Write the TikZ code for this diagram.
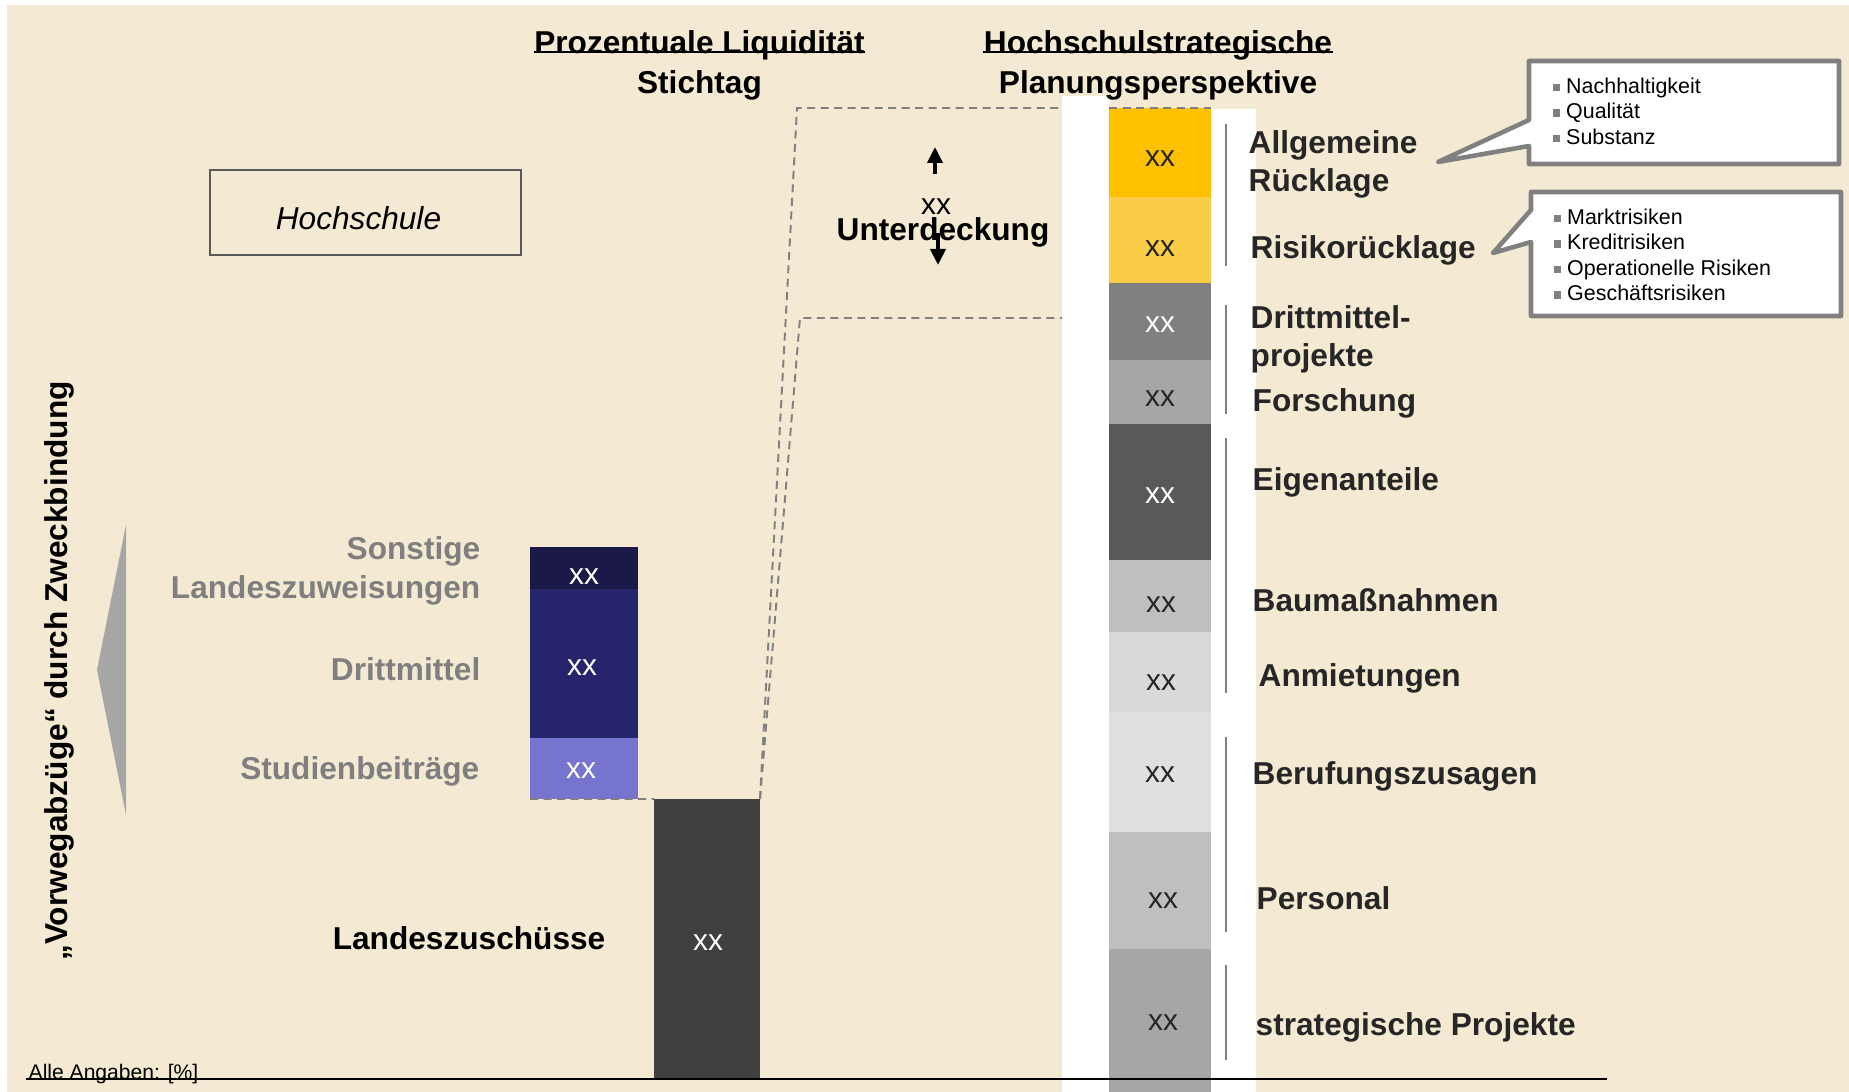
\documentclass[tikz,border=0pt]{standalone}
\usepackage{fontspec}
\setmainfont{Liberation Sans}
\usetikzlibrary{arrows.meta,positioning}
\definecolor{paper}{HTML}{F4EAD3}
\definecolor{linegray}{HTML}{808080}
\definecolor{labgray}{HTML}{7F7F7F}
\definecolor{textdark}{HTML}{262626}
\definecolor{gold}{HTML}{FFC000}
\definecolor{goldlight}{HTML}{F9CD48}
\definecolor{navydark}{HTML}{1B1948}
\definecolor{navy}{HTML}{26246B}
\definecolor{lilac}{HTML}{7774D0}
\definecolor{coal}{HTML}{404040}
\newcommand{\sqbullet}{\textcolor{linegray}{\rule[0.1em]{0.33em}{0.33em}}\hspace{0.3em}}
\tikzset{
  seg/.style={inner sep=0pt, outer sep=0pt, minimum width=1.02cm, anchor=north west},
  lab/.style={inner sep=0pt, anchor=north west, align=left, text=textdark, font=\fontsize{9}{10.8}\selectfont\bfseries},
  leftlab/.style={inner sep=0pt, anchor=north east, align=right, text=labgray, font=\fontsize{9}{11.1}\selectfont\bfseries},
  headline/.style={inner sep=0pt, anchor=north, align=center, font=\fontsize{9}{11.4}\selectfont\bfseries},
  xxval/.style={inner sep=0pt, text=textdark, font=\fontsize{8.5}{10}\selectfont},
  dashline/.style={draw=linegray, line width=0.55pt, dash pattern=on 0.8mm off 0.55mm},
  brack/.style={draw=linegray, line width=0.7pt},
  arr/.style={-{Triangle[length=1.6mm,width=1.5mm]}, line width=1.1pt},
  callbox/.style={draw=linegray, fill=white, line width=1.3pt, line join=round},
  calltext/.style={inner sep=0pt, anchor=north west, align=left, font=\fontsize{6.1}{7.25}\selectfont},
}

\begin{document}
\begin{tikzpicture}[x=1cm,y=-1cm]
	\useasboundingbox (0,0) rectangle (18.49,10.92);
	\fill[white] (0,0) rectangle (18.49,10.92);
	\fill[paper] (0.07,0.05) rectangle (18.49,10.92);
	\fill[white] (10.62,0.96) -- (11.09,0.96) -- (11.09,1.09) -- (12.56,1.09) -- (12.56,10.92) -- (10.62,10.92) -- cycle;
%
	\node[headline] (liq) at (6.995,0.30) {Prozentuale Liquidität\\Stichtag};
	\node[headline] (plan) at (11.58,0.30) {Hochschulstrategische\\Planungsperspektive};
	\draw[line width=0.6pt] ([yshift=-6.3pt]liq.north west) -- ([yshift=-6.3pt]liq.north east);
	\draw[line width=0.6pt] ([yshift=-6.3pt]plan.north west) -- ([yshift=-6.3pt]plan.north east);
	\node[draw=black!65, line width=0.5pt, minimum width=3.11cm, minimum height=0.85cm, text height=0.35cm, text depth=0pt, font=\fontsize{9}{11}\selectfont\itshape] (hs) at (3.655,2.125) {Hochschule\hspace*{0.14cm}};
%
	\node[seg, fill=gold, minimum height=0.89cm] (ag) at (11.09,1.08) {};
	\node[seg, fill=goldlight, minimum height=0.86cm, below=0pt of ag] (rr) {};
	\node[seg, fill=black!50, minimum height=0.77cm, below=0pt of rr] (dp) {};
	\node[seg, fill=black!35, minimum height=0.64cm, below=0pt of dp] (fo) {};
	\node[seg, fill=black!65, minimum height=1.36cm, below=0pt of fo] (ea) {};
	\node[seg, fill=black!25, minimum height=0.72cm, below=0pt of ea] (bm) {};
	\node[seg, fill=black!15, minimum height=0.80cm, below=0pt of bm] (am) {};
	\node[seg, fill=black!12, minimum height=1.20cm, below=0pt of am] (bz) {};
	\node[seg, fill=black!25, minimum height=1.17cm, below=0pt of bz] (pe) {};
	\node[seg, fill=black!35, minimum height=1.43cm, below=0pt of pe] (sp) {};
%
	\node[seg, minimum width=1.08cm, fill=navydark, minimum height=0.42cm] (so) at (5.30,5.47) {};
	\node[seg, minimum width=1.08cm, fill=navy, minimum height=1.49cm, below=0pt of so] (dm) {};
	\node[seg, minimum width=1.08cm, fill=lilac, minimum height=0.61cm, below=0pt of dm] (st) {};
	\node[seg, minimum width=1.06cm, fill=coal, minimum height=2.79cm] (lz) at (6.54,7.99) {};
%
	\coordinate (k1) at (7.97,1.08);
	\coordinate (k2) at (8.00,3.18);
	\coordinate (e1) at (10.62,1.08);
	\coordinate (e2) at (10.62,3.18);
	\draw[dashline] (lz.north east) -- (k1) -- (e1);
	\draw[dashline] (lz.north east) -- (k2) -- (e2);
	\draw[dashline] (ag.north west) -- (ag.north east);
	\draw[dashline] (st.south west) -- (lz.north west);
%
	\node[xxval] (v1) at (11.60,1.59) {xx};
	\node[xxval] (v2) at (11.60,2.49) {xx};
	\node[xxval, text=white] (v3) at (11.60,3.25) {xx};
	\node[xxval] (v4) at (11.60,3.99) {xx};
	\node[xxval, text=white] (v5) at (11.60,4.96) {xx};
	\node[xxval] (v6) at (11.61,6.05) {xx};
	\node[xxval] (v7) at (11.61,6.83) {xx};
	\node[xxval] (v8) at (11.60,7.75) {xx};
	\node[xxval] (v9) at (11.63,9.01) {xx};
	\node[xxval] (v10) at (11.63,10.23) {xx};
	\node[xxval, text=white] (w1) at (5.84,5.77) {xx};
	\node[xxval, text=white] (w2) at (5.82,6.68) {xx};
	\node[xxval, text=white] (w3) at (5.81,7.71) {xx};
	\node[xxval, text=white] (w4) at (7.08,9.43) {xx};
%
	\draw[brack] (12.26,1.24) -- (12.26,2.66);
	\draw[brack] (12.26,3.05) -- (12.26,4.14);
	\draw[brack] (12.26,4.38) -- (12.26,6.93);
	\draw[brack] (12.26,7.37) -- (12.26,9.32);
	\draw[brack] (12.26,9.65) -- (12.26,10.60);
	\node[lab] (l1) at (12.48,1.30) {Allgemeine\\Rücklage};
	\node[lab] (l2) at (12.50,2.35) {Risikorücklage};
	\node[lab] (l3) at (12.50,3.05) {Drittmittel-\\projekte};
	\node[lab] (l4) at (12.52,3.88) {Forschung};
	\node[lab] (l5) at (12.52,4.67) {Eigenanteile};
	\node[lab] (l6) at (12.52,5.88) {Baumaßnahmen};
	\node[lab] (l7) at (12.58,6.63) {Anmietungen};
	\node[lab] (l8) at (12.52,7.61) {Berufungszusagen};
	\node[lab] (l9) at (12.56,8.86) {Personal};
	\node[lab] (l10) at (12.55,10.12) {strategische Projekte};
%
	\node[leftlab] (n1) at (4.81,5.36) {Sonstige\\Landeszuweisungen};
	\node[leftlab] (n2) at (4.81,6.57) {Drittmittel};
	\node[leftlab] (n3) at (4.80,7.56) {Studienbeiträge};
	\node[leftlab, text=black] (n4) at (6.06,9.26) {Landeszuschüsse};
%
	\node[headline] (ud) at (9.43,2.17) {Unterdeckung};
	\node[xxval, text=black] (udv) at (9.36,2.065) {xx};
	\coordinate (up1) at (9.35,1.74);
	\coordinate (up2) at (9.35,1.47);
	\coordinate (dn1) at (9.38,2.33);
	\coordinate (dn2) at (9.38,2.65);
	\draw[arr] (up1) -- (up2);
	\draw[arr] (dn1) -- (dn2);
%
	\fill[black!35] (1.26,5.25) -- (0.97,6.70) -- (1.26,8.15) -- cycle;
	\node[rotate=90, inner sep=0pt, font=\fontsize{9}{11}\selectfont\bfseries] (vw) at (0.59,6.71) {„Vorwegabzüge“ durch Zweckbindung};
%
	\draw[callbox] (15.29,0.61) -- (18.39,0.61) -- (18.39,1.64) -- (15.29,1.64) -- (15.29,1.46) -- (14.38,1.62) -- (15.29,1.20) -- cycle;
	\node[calltext] (c1) at (15.52,0.77) {\sqbullet Nachhaltigkeit\\\sqbullet Qualität\\\sqbullet Substanz};
	\draw[callbox] (15.31,1.92) -- (18.41,1.92) -- (18.41,3.16) -- (15.31,3.16) -- (15.31,2.42) -- (14.93,2.53) -- (15.31,2.10) -- cycle;
	\node[calltext] (c2) at (15.53,2.08) {\sqbullet Marktrisiken\\\sqbullet Kreditrisiken\\\sqbullet Operationelle Risiken\\\sqbullet Geschäftsrisiken};
%
	\draw[line width=0.6pt] (0.26,10.79) -- (16.07,10.79);
	\node[inner sep=0pt, anchor=north west, font=\fontsize{6}{7}\selectfont] (note) at (0.28,10.64) {Alle Angaben: [\%]};
\end{tikzpicture}
\end{document}
